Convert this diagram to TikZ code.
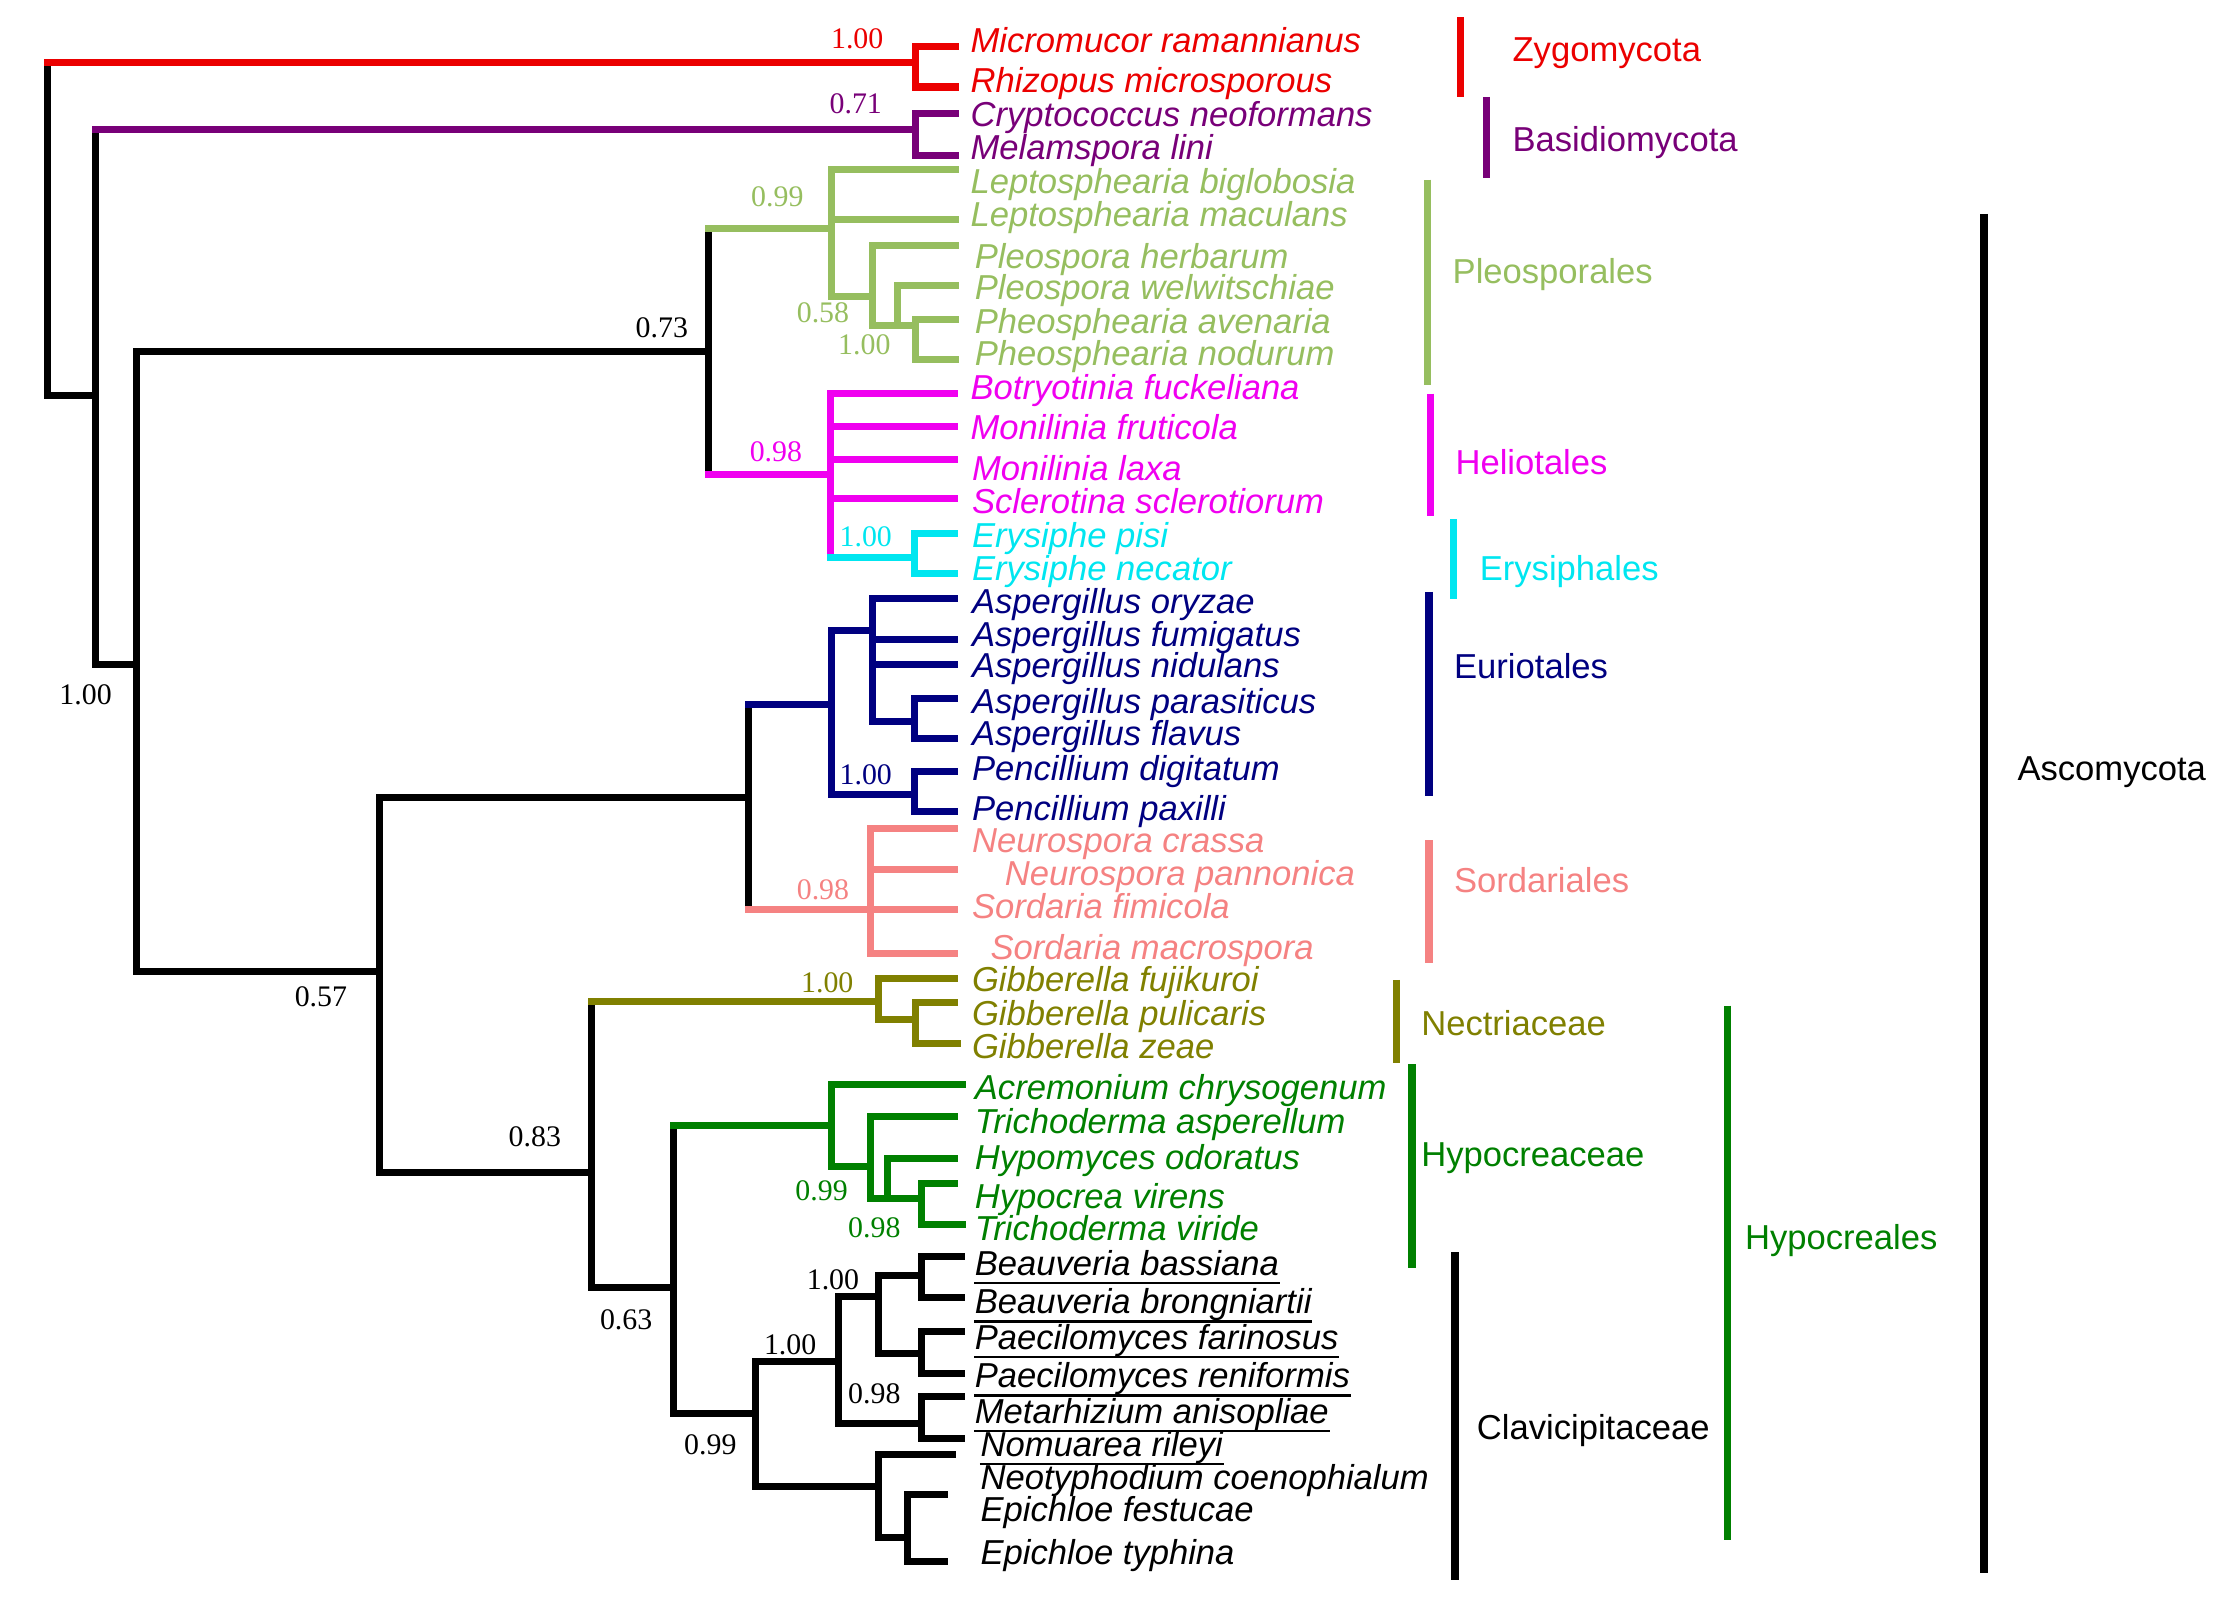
\documentclass[tikz,border=0pt]{standalone}
\usepackage{fontspec}
\setmainfont{Liberation Sans}
\newfontfamily\numfont{Liberation Serif}
\definecolor{cRed}{RGB}{235,0,0}
\definecolor{cPur}{RGB}{120,0,120}
\definecolor{cLgr}{RGB}{150,190,95}
\definecolor{cMag}{RGB}{240,0,240}
\definecolor{cCya}{RGB}{0,230,240}
\definecolor{cNav}{RGB}{0,0,128}
\definecolor{cSal}{RGB}{245,130,130}
\definecolor{cOli}{RGB}{128,128,0}
\definecolor{cGrn}{RGB}{0,128,0}
\newcommand\Edge[4]{\draw[br,#3] (#1) -- (#1 |- #2); \draw[br,#4] (#1 |- #2) -- (#2);}
\newcommand\Tx[5]{\node[taxon,text=#4] (#1) at (#2-3,#3) {#5};}
\newcommand\Ul[1]{\draw[line width=0.7pt] ([yshift=-2.2pt]#1.base west) -- ([yshift=-2.2pt]#1.base east);}
\newcommand\Sp[5]{\node[supp,text=#4] (#1) at (#2,#3) {#5};}
\newcommand\Cl[5]{\node[clade,text=#4] (#1) at (#2,#3) {#5};}
\begin{document}
\begin{tikzpicture}[x=0.014263cm, y=-0.014263cm,
  br/.style={line width=2pt, line cap=rect},
  bar/.style={line width=2.1pt},
  taxon/.style={anchor=base west, inner sep=0pt, font=\fontsize{9.85}{12}\selectfont\itshape},
  clade/.style={anchor=base west, inner sep=0pt, font=\fontsize{9.85}{12}\selectfont},
  supp/.style={inner sep=0pt, font=\numfont\fontsize{8.5}{10}\selectfont}]
\useasboundingbox (0,0) rectangle (1560,1124.5);
% internal nodes
\coordinate (r0) at (33,277);
\coordinate (rz) at (642,44);
\coordinate (b1) at (67,277);
\coordinate (pz) at (642,91);
\coordinate (c1) at (96,466);
\coordinate (d1) at (497,246.5);
\coordinate (e1) at (266,681);
\coordinate (pl) at (583,160);
\coordinate (p2) at (612,208);
\coordinate (p3) at (629,228);
\coordinate (p4) at (642,228);
\coordinate (he) at (582,333);
\coordinate (er) at (641,391);
\coordinate (f1) at (525,559);
\coordinate (eu) at (583,494);
\coordinate (as) at (612,442);
\coordinate (ap) at (641,506);
\coordinate (pe) at (641,557);
\coordinate (so) at (610,638);
\coordinate (g1) at (415,822);
\coordinate (gb) at (616,702);
\coordinate (gp) at (642,715);
\coordinate (h1) at (472,903);
\coordinate (hy) at (583,789);
\coordinate (h2) at (610,818);
\coordinate (h3) at (622,840);
\coordinate (h4) at (646,840);
\coordinate (i1) at (530,991);
\coordinate (j1) at (588,954.6);
\coordinate (k1) at (616,909);
\coordinate (k2) at (646,894);
\coordinate (k3) at (646,949);
\coordinate (l1) at (646,998);
\coordinate (m1) at (616,1042);
\coordinate (m2) at (636,1078);
% tips
\coordinate (t1) at (670,32.7);
\coordinate (t2) at (670,61);
\coordinate (t3) at (670,79.5);
\coordinate (t4) at (670,108.7);
\coordinate (t5) at (670,119);
\coordinate (t6) at (670,154);
\coordinate (t7) at (670,172);
\coordinate (t8) at (670,200);
\coordinate (t9) at (670,224);
\coordinate (t10) at (670,252);
\coordinate (t11) at (669,275.7);
\coordinate (t12) at (669,299);
\coordinate (t13) at (669,322.5);
\coordinate (t14) at (669,349.4);
\coordinate (t15) at (669,374);
\coordinate (t16) at (669,402);
\coordinate (t17) at (669,419.5);
\coordinate (t18) at (669,448.7);
\coordinate (t19) at (669,466);
\coordinate (t20) at (669,489.6);
\coordinate (t21) at (669,517.6);
\coordinate (t22) at (669,541);
\coordinate (t23) at (669,569);
\coordinate (t24) at (669,580.6);
\coordinate (t25) at (669,609.9);
\coordinate (t26) at (669,637.9);
\coordinate (t27) at (669,668.3);
\coordinate (t28) at (669,685.8);
\coordinate (t29) at (669,702.9);
\coordinate (t30) at (671,731.4);
\coordinate (t31) at (675,760.6);
\coordinate (t32) at (669,782.8);
\coordinate (t33) at (669,812);
\coordinate (t34) at (669,829.5);
\coordinate (t35) at (675,858.7);
\coordinate (t36) at (674,881);
\coordinate (t37) at (674,910);
\coordinate (t38) at (674,933.5);
\coordinate (t39) at (674,962.7);
\coordinate (t40) at (674,979);
\coordinate (t41) at (674,1008.3);
\coordinate (t42) at (668,1020);
\coordinate (t43) at (662,1048);
\coordinate (t44) at (662,1095);
% edges
\Edge{r0}{rz}{black}{cRed}
\Edge{r0}{b1}{black}{black}
\Edge{rz}{t1}{cRed}{cRed}
\Edge{rz}{t2}{cRed}{cRed}
\Edge{b1}{pz}{black}{cPur}
\Edge{b1}{c1}{black}{black}
\Edge{pz}{t3}{cPur}{cPur}
\Edge{pz}{t4}{cPur}{cPur}
\Edge{c1}{d1}{black}{black}
\Edge{c1}{e1}{black}{black}
\Edge{d1}{pl}{black}{cLgr}
\Edge{d1}{he}{black}{cMag}
\Edge{pl}{t5}{cLgr}{cLgr}
\Edge{pl}{t6}{cLgr}{cLgr}
\Edge{pl}{p2}{cLgr}{cLgr}
\Edge{p2}{t7}{cLgr}{cLgr}
\Edge{p2}{p3}{cLgr}{cLgr}
\Edge{p3}{t8}{cLgr}{cLgr}
\Edge{p3}{p4}{cLgr}{cLgr}
\Edge{p4}{t9}{cLgr}{cLgr}
\Edge{p4}{t10}{cLgr}{cLgr}
\Edge{he}{t11}{cMag}{cMag}
\Edge{he}{t12}{cMag}{cMag}
\Edge{he}{t13}{cMag}{cMag}
\Edge{he}{t14}{cMag}{cMag}
\Edge{he}{er}{cMag}{cCya}
\Edge{er}{t15}{cCya}{cCya}
\Edge{er}{t16}{cCya}{cCya}
\Edge{e1}{f1}{black}{black}
\Edge{e1}{g1}{black}{black}
\Edge{f1}{eu}{black}{cNav}
\Edge{f1}{so}{black}{cSal}
\Edge{eu}{as}{cNav}{cNav}
\Edge{eu}{pe}{cNav}{cNav}
\Edge{as}{t17}{cNav}{cNav}
\Edge{as}{t18}{cNav}{cNav}
\Edge{as}{t19}{cNav}{cNav}
\Edge{as}{ap}{cNav}{cNav}
\Edge{ap}{t20}{cNav}{cNav}
\Edge{ap}{t21}{cNav}{cNav}
\Edge{pe}{t22}{cNav}{cNav}
\Edge{pe}{t23}{cNav}{cNav}
\Edge{so}{t24}{cSal}{cSal}
\Edge{so}{t25}{cSal}{cSal}
\Edge{so}{t26}{cSal}{cSal}
\Edge{so}{t27}{cSal}{cSal}
\Edge{g1}{gb}{black}{cOli}
\Edge{g1}{h1}{black}{black}
\Edge{gb}{t28}{cOli}{cOli}
\Edge{gb}{gp}{cOli}{cOli}
\Edge{gp}{t29}{cOli}{cOli}
\Edge{gp}{t30}{cOli}{cOli}
\Edge{h1}{hy}{black}{cGrn}
\Edge{h1}{i1}{black}{black}
\Edge{hy}{t31}{cGrn}{cGrn}
\Edge{hy}{h2}{cGrn}{cGrn}
\Edge{h2}{t32}{cGrn}{cGrn}
\Edge{h2}{h3}{cGrn}{cGrn}
\Edge{h3}{t33}{cGrn}{cGrn}
\Edge{h3}{h4}{cGrn}{cGrn}
\Edge{h4}{t34}{cGrn}{cGrn}
\Edge{h4}{t35}{cGrn}{cGrn}
\Edge{i1}{j1}{black}{black}
\Edge{i1}{m1}{black}{black}
\Edge{j1}{k1}{black}{black}
\Edge{j1}{l1}{black}{black}
\Edge{k1}{k2}{black}{black}
\Edge{k1}{k3}{black}{black}
\Edge{k2}{t36}{black}{black}
\Edge{k2}{t37}{black}{black}
\Edge{k3}{t38}{black}{black}
\Edge{k3}{t39}{black}{black}
\Edge{l1}{t40}{black}{black}
\Edge{l1}{t41}{black}{black}
\Edge{m1}{t42}{black}{black}
\Edge{m1}{m2}{black}{black}
\Edge{m2}{t43}{black}{black}
\Edge{m2}{t44}{black}{black}
% taxa
\Tx{n1}{683}{37}{cRed}{Micromucor ramannianus}
\Tx{n2}{683}{65}{cRed}{Rhizopus microsporous}
\Tx{n3}{683}{89}{cPur}{Cryptococcus neoformans}
\Tx{n4}{683}{112}{cPur}{Melamspora lini}
\Tx{n5}{683}{136}{cLgr}{Leptosphearia biglobosia}
\Tx{n6}{683}{159}{cLgr}{Leptosphearia maculans}
\Tx{n7}{686}{188}{cLgr}{Pleospora herbarum}
\Tx{n8}{686}{210}{cLgr}{Pleospora welwitschiae}
\Tx{n9}{686}{234}{cLgr}{Pheosphearia avenaria}
\Tx{n10}{686}{256}{cLgr}{Pheosphearia nodurum}
\Tx{n11}{683}{280}{cMag}{Botryotinia fuckeliana}
\Tx{n12}{683}{308}{cMag}{Monilinia fruticola}
\Tx{n13}{684}{337}{cMag}{Monilinia laxa}
\Tx{n14}{684}{360}{cMag}{Sclerotina sclerotiorum}
\Tx{n15}{684}{384}{cCya}{Erysiphe pisi}
\Tx{n16}{684}{407}{cCya}{Erysiphe necator}
\Tx{n17}{684}{430}{cNav}{Aspergillus oryzae}
\Tx{n18}{684}{453}{cNav}{Aspergillus fumigatus}
\Tx{n19}{684}{475}{cNav}{Aspergillus nidulans}
\Tx{n20}{684}{500}{cNav}{Aspergillus parasiticus}
\Tx{n21}{684}{523}{cNav}{Aspergillus flavus}
\Tx{n22}{684}{547}{cNav}{Pencillium digitatum}
\Tx{n23}{684}{575}{cNav}{Pencillium paxilli}
\Tx{n24}{684}{598}{cSal}{Neurospora crassa}
\Tx{n25}{707}{621}{cSal}{Neurospora pannonica}
\Tx{n26}{684}{644}{cSal}{Sordaria fimicola}
\Tx{n27}{697}{673}{cSal}{Sordaria macrospora}
\Tx{n28}{684}{695}{cOli}{Gibberella fujikuroi}
\Tx{n29}{684}{719}{cOli}{Gibberella pulicaris}
\Tx{n30}{684}{742}{cOli}{Gibberella zeae}
\Tx{n31}{686}{771}{cGrn}{Acremonium chrysogenum}
\Tx{n32}{686}{795}{cGrn}{Trichoderma asperellum}
\Tx{n33}{686}{820}{cGrn}{Hypomyces odoratus}
\Tx{n34}{686}{847}{cGrn}{Hypocrea virens}
\Tx{n35}{686}{870}{cGrn}{Trichoderma viride}
\Tx{n36}{686}{894}{black}{Beauveria bassiana}
\Tx{n37}{686}{921}{black}{Beauveria brongniartii}
\Tx{n38}{686}{946}{black}{Paecilomyces farinosus}
\Tx{n39}{686}{973}{black}{Paecilomyces reniformis}
\Tx{n40}{686}{998}{black}{Metarhizium anisopliae}
\Tx{n41}{690}{1021}{black}{Nomuarea rileyi}
\Tx{n42}{690}{1044}{black}{Neotyphodium coenophialum}
\Tx{n43}{690}{1067}{black}{Epichloe festucae}
\Tx{n44}{690}{1097}{black}{Epichloe typhina}
\Ul{n36}\Ul{n37}\Ul{n38}\Ul{n39}\Ul{n40}\Ul{n41}
% support values
\Sp{s1}{601}{27}{cRed}{1.00}
\Sp{s2}{600}{73}{cPur}{0.71}
\Sp{s3}{545}{138}{cLgr}{0.99}
\Sp{s4}{464}{230}{black}{0.73}
\Sp{s5}{577}{219}{cLgr}{0.58}
\Sp{s6}{606}{242}{cLgr}{1.00}
\Sp{s7}{544}{317}{cMag}{0.98}
\Sp{s8}{607}{376}{cCya}{1.00}
\Sp{s9}{607}{543}{cNav}{1.00}
\Sp{s10}{577}{624}{cSal}{0.98}
\Sp{s11}{580}{689}{cOli}{1.00}
\Sp{s12}{225}{699}{black}{0.57}
\Sp{s13}{375}{797}{black}{0.83}
\Sp{s14}{576}{835}{cGrn}{0.99}
\Sp{s15}{613}{861}{cGrn}{0.98}
\Sp{s16}{584}{897}{black}{1.00}
\Sp{s17}{554}{943}{black}{1.00}
\Sp{s18}{613}{977}{black}{0.98}
\Sp{s19}{439}{925}{black}{0.63}
\Sp{s20}{498}{1013}{black}{0.99}
\Sp{s21}{60}{487}{black}{1.00}
% clade bars
\draw[bar,cRed] (1024,12) -- (1024,68);
\draw[bar,cPur] (1042,68) -- (1042,125);
\draw[bar,cLgr] (1001,126) -- (1001,270);
\draw[bar,cMag] (1003,276) -- (1003,362);
\draw[bar,cCya] (1019,364) -- (1019,420);
\draw[bar,cNav] (1002,415) -- (1002,558);
\draw[bar,cSal] (1002,589) -- (1002,675);
\draw[bar,cOli] (979,687) -- (979,745);
\draw[bar,cGrn] (990,746) -- (990,889);
\draw[bar,black] (1020,878) -- (1020,1108);
\draw[bar,cGrn] (1211,705) -- (1211,1080);
\draw[bar,black] (1391,150) -- (1391,1103);
% clade labels
\Cl{L1}{1060}{43}{cRed}{Zygomycota}
\Cl{L2}{1060}{106}{cPur}{Basidiomycota}
\Cl{L3}{1018}{199}{cLgr}{Pleosporales}
\Cl{L4}{1020}{333}{cMag}{Heliotales}
\Cl{L5}{1037}{407}{cCya}{Erysiphales}
\Cl{L6}{1019}{476}{cNav}{Euriotales}
\Cl{L7}{1019}{626}{cSal}{Sordariales}
\Cl{L8}{996}{726}{cOli}{Nectriaceae}
\Cl{L9}{996}{818}{cGrn}{Hypocreaceae}
\Cl{L10}{1035}{1009}{black}{Clavicipitaceae}
\Cl{L11}{1223}{876}{cGrn}{Hypocreales}
\Cl{L12}{1414}{547}{black}{Ascomycota}
\end{tikzpicture}
\end{document}
